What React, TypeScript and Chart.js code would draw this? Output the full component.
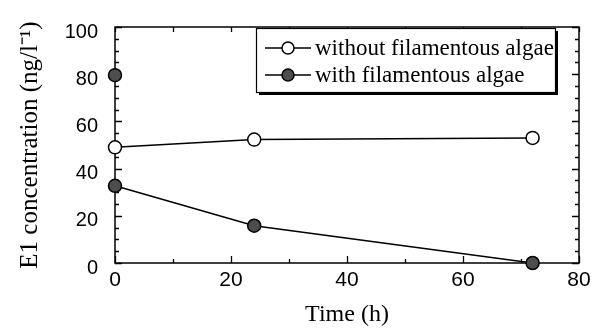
import React, { useEffect, useRef } from "react";
import { Chart, registerables } from "chart.js";

Chart.register(...registerables);

// ---- Data ----
const withoutTimes = [0, 24, 72];
const withoutValues = [49, 52.3, 53];
const withTimes = [0, 24, 72];
const withValues = [32.7, 15.8, 0];
const withInitialTimes = [0];
const withInitialValues = [79.6];

const seriesLabels = ["without filamentous algae", "with filamentous algae"];
const xTitle = "Time (h)";
const yTitle = "E1 concentration (ng/l\u207B\u00B9)";
const xMajorTicks = [0, 20, 40, 60, 80];
const yMajorTicks = [0, 20, 40, 60, 80, 100];

const FILL_DARK = "#4d4d4d";
const TICK_FONT = "'Liberation Sans', Arial, sans-serif";
const SERIF = "'Liberation Serif', 'Times New Roman', serif";

const framePlugin = {
  id: "frameTicks",
  beforeDatasetsDraw(chart: any) {
    const { ctx, chartArea } = chart;
    const { left, right, top, bottom } = chartArea;
    const xs = chart.scales.x;
    const ys = chart.scales.y;
    ctx.save();
    ctx.strokeStyle = "#000";
    ctx.lineWidth = 1.5;
    ctx.strokeRect(left, top, right - left, bottom - top);
    ctx.lineWidth = 1.3;
    ctx.beginPath();
    for (let v = 0; v <= 100; v += 5) {
      const y = Math.round(ys.getPixelForValue(v)) + 0.5;
      const len = v % 20 === 0 ? 7 : 4;
      ctx.moveTo(left, y);
      ctx.lineTo(left + len, y);
      ctx.moveTo(right, y);
      ctx.lineTo(right - len, y);
    }
    for (let v = 0; v <= 80; v += 10) {
      const x = Math.round(xs.getPixelForValue(v)) + 0.5;
      const len = v % 20 === 0 ? 7 : 4;
      ctx.moveTo(x, bottom);
      ctx.lineTo(x, bottom - len);
      ctx.moveTo(x, top);
      ctx.lineTo(x, top + 5);
    }
    ctx.stroke();
    ctx.restore();
  },
  afterDraw(chart: any) {
    const { ctx } = chart;
    const bx = 256, by = 28, bw = 299, bh = 64;
    ctx.save();
    // shadow
    ctx.fillStyle = "#000";
    ctx.fillRect(bx + 3, by + bh, bw, 3);
    ctx.fillRect(bx + bw, by + 3, 3, bh);
    ctx.fillStyle = "#fff";
    ctx.fillRect(bx, by, bw, bh);
    ctx.strokeStyle = "#000";
    ctx.lineWidth = 1.2;
    ctx.strokeRect(bx + 0.5, by + 0.5, bw, bh);
    const rows = [
      { y: 48, fill: "#fff" },
      { y: 75, fill: FILL_DARK },
    ];
    ctx.font = `23px ${SERIF}`;
    ctx.textBaseline = "alphabetic";
    ctx.textAlign = "left";
    rows.forEach((r, i) => {
      ctx.beginPath();
      ctx.lineWidth = 1.5;
      ctx.moveTo(265, r.y);
      ctx.lineTo(311, r.y);
      ctx.stroke();
      ctx.beginPath();
      ctx.arc(288, r.y, 6, 0, Math.PI * 2);
      ctx.fillStyle = r.fill;
      ctx.fill();
      ctx.stroke();
      ctx.fillStyle = "#000";
      ctx.fillText(seriesLabels[i], 315, r.y + 7);
    });
    ctx.restore();
  },
};

export default function App() {
  const ref = useRef<HTMLCanvasElement | null>(null);
  useEffect(() => {
    document.body.style.margin = "0";
    const canvas = ref.current!;
    const toPts = (xs: number[], ys: number[]) => xs.map((x, i) => ({ x, y: ys[i] }));
    const chart = new Chart(canvas, {
      type: "scatter",
      data: {
        datasets: [
          {
            label: seriesLabels[0],
            data: toPts(withoutTimes, withoutValues),
            showLine: true,
            borderColor: "#000",
            borderWidth: 1.5,
            pointRadius: 6.5,
            pointBorderWidth: 1.5,
            pointBackgroundColor: "#fff",
            pointBorderColor: "#000",
            clip: false as any,
          },
          {
            label: seriesLabels[1],
            data: toPts(withTimes, withValues),
            showLine: true,
            borderColor: "#000",
            borderWidth: 1.5,
            pointRadius: 6.5,
            pointBorderWidth: 1.5,
            pointBackgroundColor: FILL_DARK,
            pointBorderColor: "#000",
            clip: false as any,
          },
          {
            label: seriesLabels[1] + " (initial)",
            data: toPts(withInitialTimes, withInitialValues),
            showLine: false,
            pointRadius: 6.5,
            pointBorderWidth: 1.5,
            pointBackgroundColor: FILL_DARK,
            pointBorderColor: "#000",
            clip: false as any,
          },
        ],
      },
      plugins: [framePlugin],
      options: {
        animation: false,
        responsive: false,
        layout: { padding: { top: 12, right: 24, left: 0, bottom: 0 } },
        plugins: { legend: { display: false }, tooltip: { enabled: false } },
        scales: {
          x: {
            type: "linear",
            min: 0,
            max: 80,
            afterFit: (s: any) => {
              s.height = 69;
            },
            afterBuildTicks: (s: any) => {
              s.ticks = xMajorTicks.map((v) => ({ value: v }));
            },
            grid: { display: false, drawTicks: false },
            border: { display: false },
            ticks: {
              color: "#000",
              padding: 7,
              maxRotation: 0,
              font: { family: TICK_FONT, size: 21, lineHeight: 1 },
            },
            title: {
              display: true,
              text: xTitle,
              color: "#000",
              padding: { top: 0, bottom: 3 },
              font: { family: SERIF, size: 24, lineHeight: 1.2 },
            },
          },
          y: {
            type: "linear",
            min: 0,
            max: 100,
            afterFit: (s: any) => {
              s.width = 115;
            },
            afterBuildTicks: (s: any) => {
              s.ticks = yMajorTicks.map((v) => ({ value: v }));
            },
            grid: { display: false, drawTicks: false },
            border: { display: false },
            ticks: {
              color: "#000",
              padding: 17,
              labelOffset: 5,
              font: { family: TICK_FONT, size: 20, lineHeight: 1 },
            },
            title: {
              display: true,
              text: yTitle,
              color: "#000",
              padding: { top: 15, bottom: 0 },
              font: { family: SERIF, size: 25, lineHeight: 1.2 },
            },
          },
        },
      },
    });
    return () => chart.destroy();
  }, []);
  return (
    <div style={{ width: 603, height: 332, background: "#fff" }}>
      <canvas ref={ref} width={603} height={332} />
    </div>
  );
}
